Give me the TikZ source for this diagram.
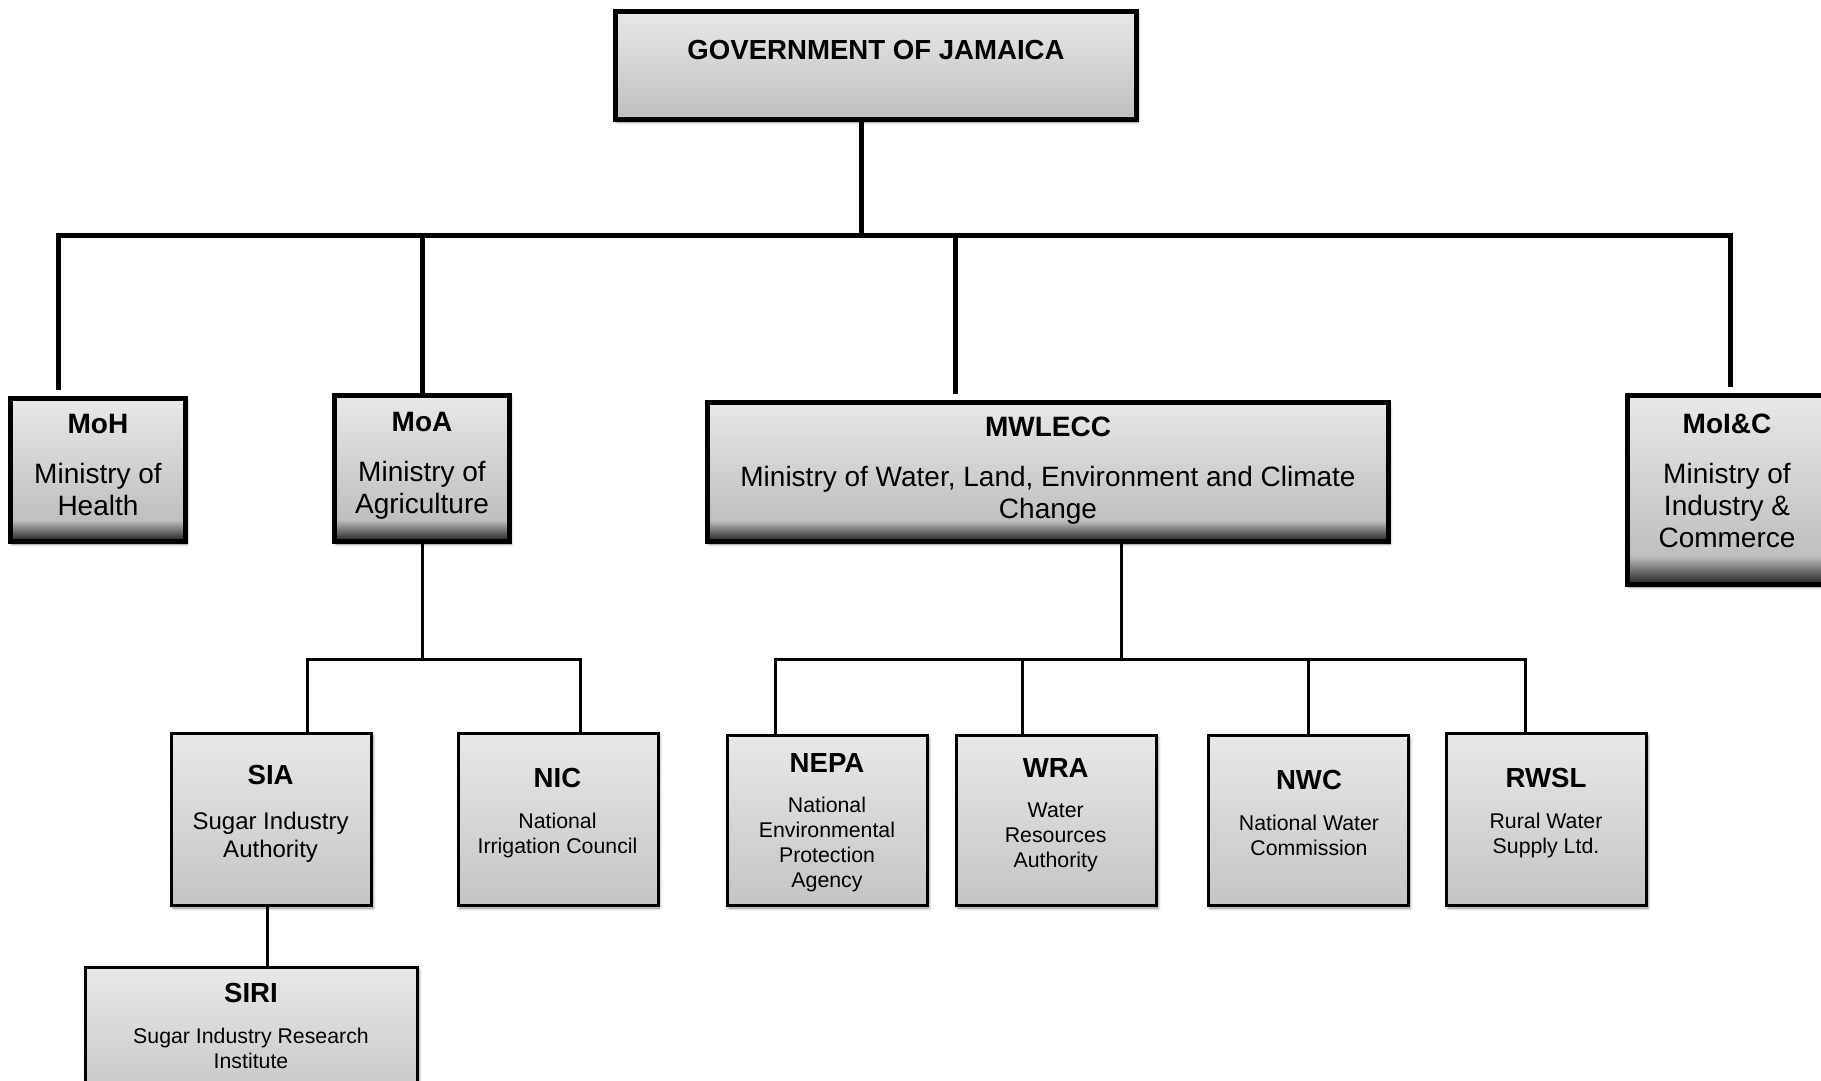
\documentclass[tikz,border=0pt]{standalone}
\usepackage{fontspec}
\setmainfont{Liberation Sans}
\usetikzlibrary{shadows.blur}
\definecolor{boxtop}{gray}{0.91}
\definecolor{boxbot}{gray}{0.75}
\definecolor{subbot}{gray}{0.77}
\definecolor{bandbot}{gray}{0.12}
\pgfdeclareverticalshading{govshade}{100bp}{color(0bp)=(boxbot); color(25bp)=(boxbot); color(75bp)=(boxtop); color(100bp)=(boxtop)}
\pgfdeclareverticalshading{minshade}{100bp}{color(0bp)=(bandbot); color(25bp)=(bandbot); color(32.5bp)=(boxbot); color(75bp)=(boxtop); color(100bp)=(boxtop)}
\pgfdeclareverticalshading{subshade}{100bp}{color(0bp)=(subbot); color(25bp)=(subbot); color(75bp)=(boxtop); color(100bp)=(boxtop)}
\newcommand{\orgtitle}[1]{{\fontsize{27.6}{30}\selectfont\bfseries #1}}
\begin{document}
\begin{tikzpicture}[x=1pt,y=-1pt,
  upline/.style={line width=5pt},
  lowline/.style={line width=3pt},
  boxshadow/.style={blur shadow={shadow xshift=1.5pt,shadow yshift=-2.5pt,shadow blur radius=3pt,shadow opacity=45}},
  govbox/.style={draw,line width=5pt,shade,shading=govshade,boxshadow,inner sep=0pt},
  minbox/.style={draw,line width=5pt,shade,shading=minshade,boxshadow,inner sep=0pt},
  subbox/.style={draw,line width=3pt,shade,shading=subshade,boxshadow,inner sep=0pt},
  govtext/.style={inner sep=0pt,font=\fontsize{27.6}{30}\selectfont\bfseries},
  mintext/.style={anchor=north,align=center,inner sep=0pt,font=\fontsize{28}{32}\selectfont},
  subtext/.style={anchor=north,align=center,inner sep=0pt,font=\fontsize{21.3}{24.8}\selectfont}]
\useasboundingbox (0,0) rectangle (1821,1081);

% top level
\node[govbox,minimum width=521pt,minimum height=108pt] (gov) at (876,65.5) {};
\node[govtext] (gov-t) at (876,50) {GOVERNMENT OF JAMAICA};

% ministries
\node[minbox,minimum width=175pt,minimum height=143pt] (moh) at (98,470) {};
\node[mintext] (moh-t) at (98,414) {\textbf{MoH}\\[18pt]Ministry of\\Health};
\node[minbox,minimum width=175pt,minimum height=146pt] (moa) at (422,468.5) {};
\node[mintext] (moa-t) at (422,411.6) {\textbf{MoA}\\[18pt]Ministry of\\Agriculture};
\node[minbox,minimum width=681pt,minimum height=139pt] (mwlecc) at (1048,472) {};
\node[mintext] (mwlecc-t) at (1048,417) {\textbf{MWLECC}\\[18pt]Ministry of Water, Land, Environment and Climate\\Change};
\node[minbox,minimum width=203pt,minimum height=189pt] (moic) at (1729,490) {};
\node[mintext] (moic-t) at (1727,414) {\textbf{MoI\&C}\\[18pt]Ministry of\\Industry \&\\Commerce};

% agencies
\node[subbox,minimum width=200pt,minimum height=172pt] (sia) at (271.5,819.5) {};
\node[subtext,font=\fontsize{24}{28}\selectfont] (sia-t) at (270.6,764.6) {\orgtitle{SIA}\\[17pt]Sugar Industry\\Authority};
\node[subbox,minimum width=200pt,minimum height=172pt] (nic) at (558,819.5) {};
\node[subtext] (nic-t) at (557.5,768) {\orgtitle{NIC}\\[16pt]National\\Irrigation Council};
\node[subbox,minimum width=332pt,minimum height=141pt] (siri) at (251.5,1038) {};
\node[subtext] (siri-t) at (251,983) {\orgtitle{SIRI}\\[16pt]Sugar Industry Research\\Institute};
\node[subbox,minimum width=200pt,minimum height=170pt] (nepa) at (827.5,820.5) {};
\node[subtext] (nepa-t) at (827,753) {\orgtitle{NEPA}\\[16pt]National\\Environmental\\Protection\\Agency};
\node[subbox,minimum width=200pt,minimum height=170pt] (wra) at (1056.5,820.5) {};
\node[subtext] (wra-t) at (1055.7,758) {\orgtitle{WRA}\\[16pt]Water\\Resources\\Authority};
\node[subbox,minimum width=200pt,minimum height=170pt] (nwc) at (1308.5,820.5) {};
\node[subtext] (nwc-t) at (1309,770) {\orgtitle{NWC}\\[16pt]National Water\\Commission};
\node[subbox,minimum width=200pt,minimum height=172pt] (rwsl) at (1546.5,819.5) {};
\node[subtext] (rwsl-t) at (1546,768) {\orgtitle{RWSL}\\[16pt]Rural Water\\Supply Ltd.};

% connectors, top level
\coordinate (barL) at (58,235);
\coordinate (barR) at (1730,235);
\coordinate (govdrop) at (861,235);
\coordinate (mwdrop) at (955,235);
\draw[upline] (gov.south -| govdrop) -- (govdrop);
\draw[upline,shorten <=6pt,shorten >=6pt] (barL |- moh.north) -- (barL) -- (barR) -- (barR |- moic.north);
\draw[upline] (moa.north) -- (moa.north |- barL);
\draw[upline,shorten >=6pt] (mwdrop) -- (mwdrop |- mwlecc.north);

% connectors, agriculture
\coordinate (siaL) at (307,659);
\coordinate (nicR) at (580,659);
\draw[lowline] (moa.south) -- (moa.south |- siaL);
\draw[lowline] (siaL |- sia.north) -- (siaL) -- (nicR) -- (nicR |- nic.north);
\draw[lowline] ([xshift=-4.5pt]sia.south) -- ([xshift=15.5pt]siri.north);

% connectors, water
\coordinate (mwbar) at (1121,659);
\coordinate (nepaL) at (775,659);
\coordinate (wraT) at (1022,659);
\coordinate (rwslR) at (1525,659);
\draw[lowline] (mwlecc.south -| mwbar) -- (mwbar);
\draw[lowline] (nepaL |- nepa.north) -- (nepaL) -- (rwslR) -- (rwslR |- rwsl.north);
\draw[lowline] (wraT) -- (wraT |- wra.north);
\draw[lowline] (nwc.north) -- (nwc.north |- nepaL);
\end{tikzpicture}
\end{document}
